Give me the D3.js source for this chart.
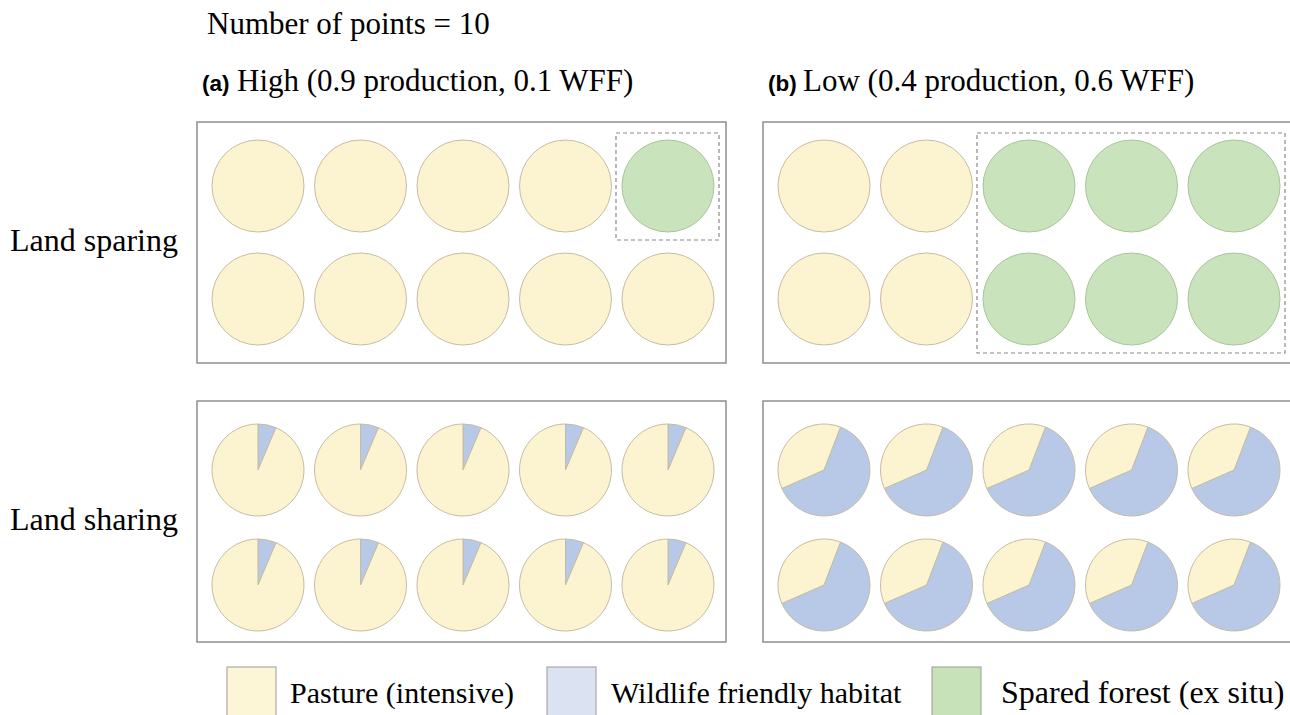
<!DOCTYPE html>
<html>
<head>
<meta charset="utf-8">
<script src="https://cdn.jsdelivr.net/npm/d3@7"></script>
<style>
  body { margin: 0; background: #fff; }
  svg { display: block; }
</style>
</head>
<body>
<svg id="chart"></svg>
<script>
// data
const panelKeys = ["a", "b"];
const panelTitles = ["High (0.9 production, 0.1 WFF)", "Low (0.4 production, 0.6 WFF)"];
const nSpared = [1, 6];          // spared forest points (land sparing)
const wffShare = [0.064, 0.626]; // wildlife friendly slice per point (land sharing)
const wffStartDeg = [0, 21];     // where the wildlife slice begins, clockwise from top
const strategies = ["Land sparing", "Land sharing"];
const legendLabels = ["Pasture (intensive)", "Wildlife friendly habitat", "Spared forest (ex situ)"];
const nCols = 5, nRows = 2;

let width = 1290,
  height = 715;

let svg = d3.select("#chart").attr("width", width).attr("height", height);

const serif = "'Liberation Serif', 'Times New Roman', serif";
const pastureFill = "#fcf4d0",
  wffFill = "#b7c9e7",
  forestFill = "#c9e4bc",
  circleStroke = "#c4bda6";

const panelX = d3.scaleOrdinal().domain(panelKeys).range([197, 763]);
const panelW = 529;
const blockY = d3.scaleOrdinal().domain(strategies).range([122, 401]);
const blockH = 241;
const r = 46;

const colX = d3.scalePoint().domain(d3.range(nCols)).range([61, 471]);
const rowY = {
  "Land sparing": d3.scalePoint().domain(d3.range(nRows)).range([64, 177]),
  "Land sharing": d3.scalePoint().domain(d3.range(nRows)).range([69, 184]),
};

svg
  .append("text")
  .attr("x", 207)
  .attr("y", 34)
  .style("font-family", serif)
  .style("font-size", "31px")
  .text("Number of points = 10");

// panel titles
panelKeys.forEach((k, i) => {
  const g = svg.append("g");
  g.append("text")
    .attr("x", panelX(k) + 5)
    .attr("y", 91)
    .style("font-family", "'Liberation Sans', Arial, sans-serif")
    .style("font-weight", "bold")
    .style("font-size", "22.5px")
    .text(`(${k})`);
  g.append("text")
    .attr("x", panelX(k) + 40)
    .attr("y", 91)
    .style("font-family", serif)
    .style("font-size", "31px")
    .text(panelTitles[i]);
});

// row labels
svg
  .selectAll(".rowlabel")
  .data(strategies)
  .enter()
  .append("text")
  .attr("class", "rowlabel")
  .attr("x", 10)
  .attr("y", (d) => blockY(d) + blockH / 2 + 8)
  .style("font-family", serif)
  .style("font-size", "32px")
  .text((d) => d);

const pie = d3.pie().sort(null).value((d) => d);
const arc = d3.arc().innerRadius(0).outerRadius(r);

panelKeys.forEach((k, pi) => {
  strategies.forEach((s) => {
    const x0 = panelX(k),
      y0 = blockY(s);
    svg
      .append("rect")
      .attr("x", x0)
      .attr("y", y0)
      .attr("width", panelW)
      .attr("height", blockH)
      .attr("fill", "none")
      .attr("stroke", "#8e8e8e")
      .attr("stroke-width", 1.5);

    // points, ordered right-to-left by column, top row first
    let pts = [];
    for (let c = nCols - 1; c >= 0; c--) {
      for (let rr = 0; rr < nRows; rr++) pts.push({ c: c, r: rr });
    }
    pts.forEach((p, i) => {
      p.x = x0 + colX(p.c);
      p.y = y0 + rowY[s](p.r);
      p.spared = i < nSpared[pi];
    });

    if (s === "Land sparing") {
      svg
        .append("g")
        .selectAll("circle")
        .data(pts)
        .enter()
        .append("circle")
        .attr("cx", (d) => d.x)
        .attr("cy", (d) => d.y)
        .attr("r", r)
        .attr("fill", (d) => (d.spared ? forestFill : pastureFill))
        .attr("stroke", (d) => (d.spared ? "#aac49c" : circleStroke))
        .attr("stroke-width", 1);

      const sp = pts.filter((d) => d.spared);
      const bx0 = d3.min(sp, (d) => d.x) - r - 6,
        bx1 = d3.max(sp, (d) => d.x) + r + 5,
        by0 = d3.min(sp, (d) => d.y) - r - 7,
        by1 = d3.max(sp, (d) => d.y) + r + 8;
      svg
        .append("rect")
        .attr("x", bx0)
        .attr("y", by0)
        .attr("width", bx1 - bx0)
        .attr("height", by1 - by0)
        .attr("fill", "none")
        .attr("stroke", "#8a8a8a")
        .attr("stroke-width", 1.2)
        .attr("stroke-dasharray", "4,3");
    } else {
      const start = (wffStartDeg[pi] * Math.PI) / 180;
      const slices = pie
        .startAngle(start)
        .endAngle(start + 2 * Math.PI)([wffShare[pi], 1 - wffShare[pi]]);
      const g = svg
        .append("g")
        .selectAll("g")
        .data(pts)
        .enter()
        .append("g")
        .attr("transform", (d) => `translate(${d.x},${d.y})`);
      g.selectAll("path")
        .data(slices)
        .enter()
        .append("path")
        .attr("d", arc)
        .attr("fill", (d, i) => (i === 0 ? wffFill : pastureFill))
        .attr("stroke", circleStroke)
        .attr("stroke-width", 1)
        .attr("stroke-linejoin", "round");
    }
  });
});

// legend
const legendX = d3.scaleOrdinal().domain(legendLabels).range([227, 547, 932]);
const legendFill = d3.scaleOrdinal().domain(legendLabels).range(["#fdf6d6", "#dbe3f3", "#c7e2b9"]);
const legendSize = d3.scaleOrdinal().domain(legendLabels).range([30, 30, 32]);
const legendGap = d3.scaleOrdinal().domain(legendLabels).range([63, 64, 69]);
const lg = svg
  .append("g")
  .selectAll("g")
  .data(legendLabels)
  .enter()
  .append("g")
  .attr("transform", (d) => `translate(${legendX(d)},667)`);
lg.append("rect")
  .attr("width", 49)
  .attr("height", 49)
  .attr("fill", (d) => legendFill(d))
  .attr("stroke", "#9a9a9a")
  .attr("stroke-width", 1);
lg.append("text")
  .attr("x", (d) => legendGap(d))
  .attr("y", 36)
  .style("font-family", serif)
  .style("font-size", (d) => legendSize(d) + "px")
  .text((d) => d);
</script>
</body>
</html>
